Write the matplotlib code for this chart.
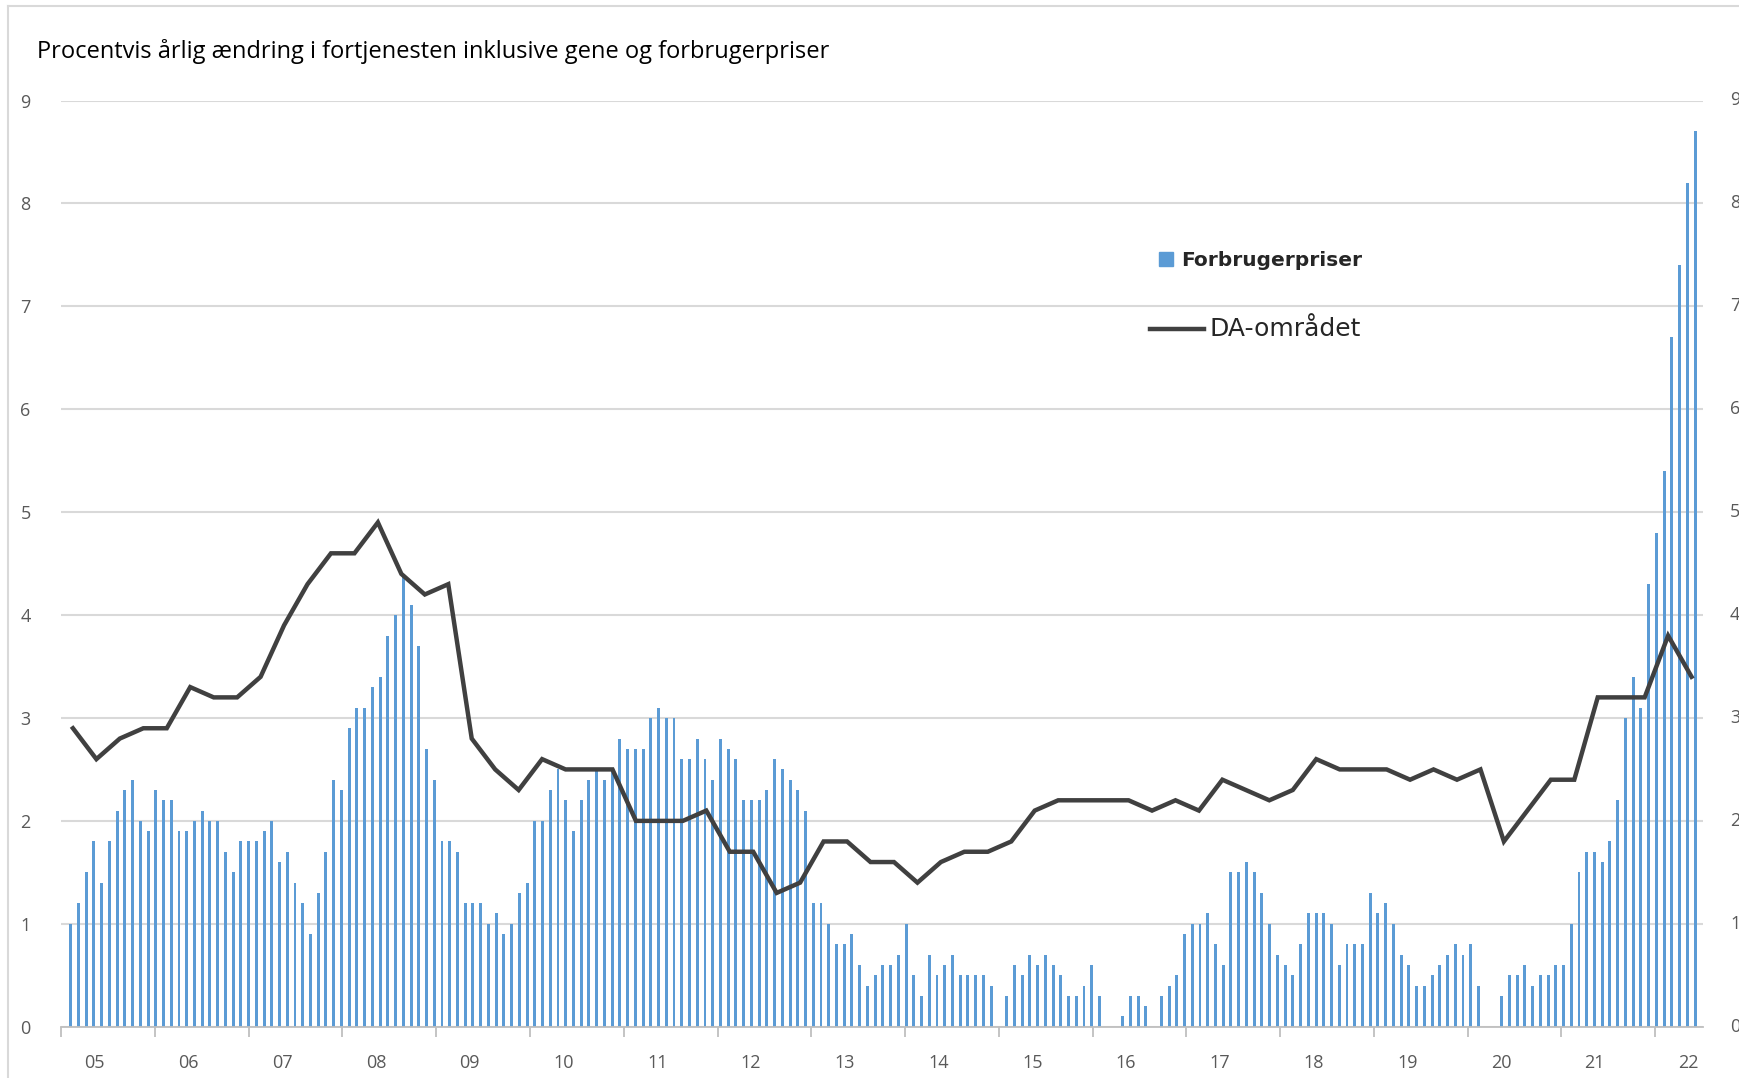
import numpy as np
import matplotlib.pyplot as plt
from matplotlib.lines import Line2D

# Forbrugerpriser, monthly, Jan 2005 - Jul 2022 (pct. y/y)
cpi = [
    1.0, 1.2, 1.5, 1.8, 1.4, 1.8, 2.1, 2.3, 2.4, 2.0, 1.9, 2.3,
    2.2, 2.2, 1.9, 1.9, 2.0, 2.1, 2.0, 2.0, 1.7, 1.5, 1.8, 1.8,
    1.8, 1.9, 2.0, 1.6, 1.7, 1.4, 1.2, 0.9, 1.3, 1.7, 2.4, 2.3,
    2.9, 3.1, 3.1, 3.3, 3.4, 3.8, 4.0, 4.4, 4.1, 3.7, 2.7, 2.4,
    1.8, 1.8, 1.7, 1.2, 1.2, 1.2, 1.0, 1.1, 0.9, 1.0, 1.3, 1.4,
    2.0, 2.0, 2.3, 2.5, 2.2, 1.9, 2.2, 2.4, 2.5, 2.4, 2.5, 2.8,
    2.7, 2.7, 2.7, 3.0, 3.1, 3.0, 3.0, 2.6, 2.6, 2.8, 2.6, 2.4,
    2.8, 2.7, 2.6, 2.2, 2.2, 2.2, 2.3, 2.6, 2.5, 2.4, 2.3, 2.1,
    1.2, 1.2, 1.0, 0.8, 0.8, 0.9, 0.6, 0.4, 0.5, 0.6, 0.6, 0.7,
    1.0, 0.5, 0.3, 0.7, 0.5, 0.6, 0.7, 0.5, 0.5, 0.5, 0.5, 0.4,
    0.0, 0.3, 0.6, 0.5, 0.7, 0.6, 0.7, 0.6, 0.5, 0.3, 0.3, 0.4,
    0.6, 0.3, 0.0, 0.0, 0.1, 0.3, 0.3, 0.2, 0.0, 0.3, 0.4, 0.5,
    0.9, 1.0, 1.0, 1.1, 0.8, 0.6, 1.5, 1.5, 1.6, 1.5, 1.3, 1.0,
    0.7, 0.6, 0.5, 0.8, 1.1, 1.1, 1.1, 1.0, 0.6, 0.8, 0.8, 0.8,
    1.3, 1.1, 1.2, 1.0, 0.7, 0.6, 0.4, 0.4, 0.5, 0.6, 0.7, 0.8,
    0.7, 0.8, 0.4, 0.0, 0.0, 0.3, 0.5, 0.5, 0.6, 0.4, 0.5, 0.5,
    0.6, 0.6, 1.0, 1.5, 1.7, 1.7, 1.6, 1.8, 2.2, 3.0, 3.4, 3.1,
    4.3, 4.8, 5.4, 6.7, 7.4, 8.2, 8.7,
]

# DA-området, quarterly, 2005K1 - 2022K2
da = [
    2.9, 2.6, 2.8, 2.9, 2.9, 3.3, 3.2, 3.2, 3.4, 3.9, 4.3, 4.6,
    4.6, 4.9, 4.4, 4.2, 4.3, 2.8, 2.5, 2.3, 2.6, 2.5, 2.5, 2.5,
    2.0, 2.0, 2.0, 2.1, 1.7, 1.7, 1.3, 1.4, 1.8, 1.8, 1.6, 1.6,
    1.4, 1.6, 1.7, 1.7, 1.8, 2.1, 2.2, 2.2, 2.2, 2.2, 2.1, 2.2,
    2.1, 2.4, 2.3, 2.2, 2.3, 2.6, 2.5, 2.5, 2.5, 2.4, 2.5, 2.4,
    2.5, 1.8, 2.1, 2.4, 2.4, 3.2, 3.2, 3.2, 3.8, 3.4,
]

year_labels = ['05', '06', '07', '08', '09', '10', '11', '12', '13',
               '14', '15', '16', '17', '18', '19', '20', '21', '22']

W, H = 1739, 1078
GRID = '#D9D9D9'
TXT = '#595959'

# pixel layout of the plot area
ax_left, ax_right = 61.2, 1703.3
ax_top, ax_bottom = 100.5, 1026.7
bar0_px, bar_step = 70.7, 7.735
year_px = 93.76


def px2x(px):
    return (px - bar0_px) / bar_step


fig = plt.figure(figsize=(W / 100, H / 100), dpi=100)
ax = fig.add_axes([ax_left / W, 1 - ax_bottom / H,
                   (ax_right - ax_left) / W, (ax_bottom - ax_top) / H])

x_months = np.arange(len(cpi))
ax.bar(x_months, cpi, width=0.38, color='#5B9BD5', zorder=2)

# line sits on its own quarterly category axis across the same width
q_w = (ax_right - ax_left) / len(da)
x_q = px2x(ax_left + (np.arange(len(da)) + 0.5) * q_w)
ax.plot(x_q, da, color='#404040', lw=3.2, zorder=3, solid_joinstyle='miter')

ax.set_xlim(px2x(ax_left), px2x(ax_right))
ax.set_ylim(0, 9)

ax.set_yticks(range(10))
ax.yaxis.grid(True, color=GRID, lw=1.5, zorder=0)
ax.tick_params(axis='y', length=0, pad=22, labelsize=13, labelcolor=TXT)
for lbl in ax.get_yticklabels():
    lbl.set_fontfamily('Open Sans')

ticks = [px2x(ax_left + year_px * j) for j in range(len(year_labels))]
ax.set_xticks(ticks)
ax.set_xticklabels([])
ax.tick_params(axis='x', which='major', length=7, width=1.3, color='#BFBFBF',
               direction='out')
ax.set_xticks([t + 33.5 / bar_step for t in ticks], minor=True)
ax.set_xticklabels(year_labels, minor=True, fontsize=13, color=TXT,
                   fontfamily='Open Sans')
ax.tick_params(axis='x', which='minor', length=0, pad=20)

for side in ['top', 'right', 'left']:
    ax.spines[side].set_visible(False)
ax.spines['bottom'].set_color('#BFBFBF')
ax.spines['bottom'].set_linewidth(1.3)

# right-hand axis labels, cut by the image edge
for v in range(10):
    yy = 1 - (ax_bottom - v * (ax_bottom - ax_top) / 9) / H
    fig.text(1730 / W, yy, str(v), fontsize=13, color=TXT, va='center',
             ha='left', fontfamily='Open Sans')

fig.text(37 / W, 1 - 51 / H,
         'Procentvis årlig ændring i fortjenesten inklusive gene og forbrugerpriser',
         fontsize=17, color='#000000', va='center', ha='left',
         fontfamily='Open Sans')

# legend drawn by hand
fig.patches.append(plt.Rectangle((1159 / W, 1 - 266 / H), 14 / W, 14 / H,
                                 transform=fig.transFigure, color='#5B9BD5'))
fig.text(1181 / W, 1 - 260 / H, 'Forbrugerpriser', fontsize=14.5,
         fontweight='bold', color='#262626', va='center', ha='left')
fig.lines.append(Line2D([1150 / W, 1204 / W], [1 - 329 / H, 1 - 329 / H],
                        transform=fig.transFigure, color='#404040', lw=3.2))
fig.text(1209 / W, 1 - 329 / H, 'DA-området', fontsize=18,
         color='#262626', va='center', ha='left')

# outer chart border (only top and left are inside the crop)
fig.lines.append(Line2D([7.5 / W, 1], [1 - 6 / H, 1 - 6 / H],
                        transform=fig.transFigure, color=GRID, lw=1.5))
fig.lines.append(Line2D([7.5 / W, 7.5 / W], [0, 1 - 6 / H],
                        transform=fig.transFigure, color=GRID, lw=1.5))

fig.savefig('out.png', dpi=100)
